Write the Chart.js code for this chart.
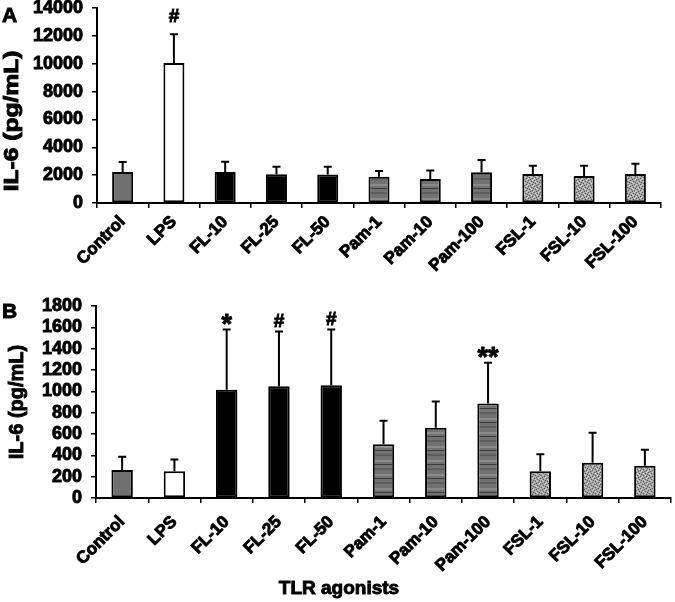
<!DOCTYPE html>
<html>
<head>
<meta charset="utf-8">
<script src="https://cdn.jsdelivr.net/npm/chart.js@4.4.0/dist/chart.umd.min.js"></script>
<style>
  body { margin: 0; background: #fff; }
  #wrap { position: relative; width: 675px; height: 602px; }
  canvas { position: absolute; left: 0; }
</style>
</head>
<body>
<div id="wrap">
  <canvas id="chartA" width="675" height="285" style="top:0"></canvas>
  <canvas id="chartB" width="675" height="340" style="top:262px"></canvas>
</div>
<script>
// values (mean, SD)
const categories = ['Control', 'LPS', 'FL-10', 'FL-25', 'FL-50', 'Pam-1', 'Pam-10', 'Pam-100', 'FSL-1', 'FSL-10', 'FSL-100'];
const il6A = [2220, 10060, 2230, 2060, 2050, 1890, 1720, 2200, 2080, 1940, 2080];
const sdA = [730, 2060, 730, 540, 560, 400, 620, 880, 590, 730, 740];
const marksA = ['', '#', '', '', '', '', '', '', '', '', ''];
const il6B = [262, 250, 1014, 1048, 1057, 505, 659, 886, 250, 331, 303];
const sdB = [125, 112, 565, 512, 522, 219, 246, 381, 159, 281, 150];
const marksB = ['', '', '*', '#', '#', '', '', '**', '', '', ''];
const groups = ['ctrl', 'lps', 'fl', 'fl', 'fl', 'pam', 'pam', 'pam', 'fsl', 'fsl', 'fsl'];

const FONT = '"Liberation Sans", Arial, Helvetica, sans-serif';
const HEAVY = 0.9; // extra stroke so the bold text looks as heavy as the figure's
Chart.defaults.font.family = FONT;
Chart.defaults.color = '#000';

function stripePattern() {
  const c = document.createElement('canvas');
  c.width = 8; c.height = 14;
  const g = c.getContext('2d');
  g.fillStyle = '#727272'; g.fillRect(0, 0, 8, 14);
  g.fillStyle = '#8a8a8a'; g.fillRect(0, 2, 8, 2);
  g.fillStyle = '#3a3a3a'; g.fillRect(0, 6, 8, 1);
  g.fillStyle = '#5e5e5e'; g.fillRect(0, 10, 8, 2);
  return g.createPattern(c, 'repeat');
}

function speckPattern() {
  const c = document.createElement('canvas');
  c.width = 6; c.height = 6;
  const g = c.getContext('2d');
  g.fillStyle = '#a2a2a2'; g.fillRect(0, 0, 6, 6);
  g.fillStyle = '#555';
  [[0, 0], [3, 1], [1, 3], [4, 4], [5, 2], [2, 5]].forEach(([x, y]) => g.fillRect(x, y, 1, 1));
  g.fillStyle = '#d4d4d4';
  [[1, 1], [4, 0], [2, 2], [5, 5], [0, 4], [3, 3]].forEach(([x, y]) => g.fillRect(x, y, 1, 1));
  return g.createPattern(c, 'repeat');
}

const fills = { ctrl: '#707070', lps: '#ffffff', fl: '#000000', pam: stripePattern(), fsl: speckPattern() };

function heavyText(ctx, text, x, y) {
  ctx.lineWidth = HEAVY;
  ctx.strokeStyle = '#000';
  ctx.fillText(text, x, y);
  ctx.strokeText(text, x, y);
}

const errorBars = {
  id: 'errorBars',
  afterDatasetsDraw(chart, args, opts) {
    const { ctx } = chart;
    const y = chart.scales.y;
    const meta = chart.getDatasetMeta(0);
    ctx.save();
    ctx.fillStyle = '#000';
    meta.data.forEach((bar, i) => {
      const top = y.getPixelForValue(opts.values[i] + opts.errors[i]);
      ctx.strokeStyle = '#000';
      ctx.lineWidth = 2;
      ctx.beginPath();
      ctx.moveTo(bar.x, bar.y);
      ctx.lineTo(bar.x, top);
      ctx.moveTo(bar.x - 4, top);
      ctx.lineTo(bar.x + 4, top);
      ctx.stroke();
      const mark = opts.marks[i];
      if (mark) {
        const star = mark.includes('*');
        ctx.font = 'bold ' + (star ? 27 : 19) + 'px ' + FONT;
        ctx.textAlign = 'center';
        ctx.textBaseline = 'alphabetic';
        heavyText(ctx, mark, bar.x, top - (star ? -3 : opts.gap));
      }
    });
    ctx.restore();
  }
};

const panelText = {
  id: 'panelText',
  afterDraw(chart, args, opts) {
    const { ctx } = chart;
    ctx.save();
    ctx.fillStyle = '#000';
    ctx.textBaseline = 'alphabetic';
    ctx.textAlign = 'left';
    ctx.font = 'bold 21px ' + FONT;
    heavyText(ctx, opts.letter, opts.letterX, opts.letterY);
    // y axis title
    ctx.translate(opts.titleX, opts.titleY);
    ctx.rotate(-Math.PI / 2);
    ctx.scale(opts.titleStretch, 1);
    ctx.textAlign = 'center';
    ctx.textBaseline = 'middle';
    ctx.font = 'bold 20px ' + FONT;
    heavyText(ctx, 'IL-6 (pg/mL)', 0, 0);
    ctx.restore();
    if (opts.xTitle) {
      ctx.save();
      ctx.fillStyle = '#000';
      ctx.font = 'bold 19px ' + FONT;
      ctx.textAlign = 'center';
      ctx.textBaseline = 'alphabetic';
      heavyText(ctx, opts.xTitle, opts.xTitleX, opts.xTitleY);
      ctx.restore();
    }
  }
};

function makeChart(id, values, errors, marks, cfg) {
  return new Chart(document.getElementById(id), {
    type: 'bar',
    data: {
      labels: categories,
      datasets: [{
        data: values,
        backgroundColor: groups.map(g => fills[g]),
        borderColor: '#000',
        borderWidth: 2,
        borderSkipped: false,
        barPercentage: 0.41,
        categoryPercentage: 1
      }]
    },
    options: {
      responsive: false,
      animation: false,
      events: [],
      layout: { padding: cfg.padding },
      plugins: {
        legend: { display: false },
        tooltip: { enabled: false },
        errorBars: { values, errors, marks, gap: cfg.markGap },
        panelText: cfg.text
      },
      scales: {
        x: {
          grid: { drawOnChartArea: false, color: '#000', lineWidth: 1.5, tickLength: 5, offset: true },
          border: { color: '#000', width: 2 },
          ticks: {
            font: { size: 17, weight: 'bold' },
            textStrokeColor: '#000', textStrokeWidth: HEAVY,
            minRotation: 45, maxRotation: 45,
            padding: cfg.xPad, autoSkip: false
          },
          afterFit(s) { s.height = cfg.xHeight; s.paddingLeft = 0; s.paddingRight = 0; }
        },
        y: {
          min: 0, max: cfg.max,
          grid: { drawOnChartArea: false, color: '#000', lineWidth: 1.5, tickLength: 5 },
          border: { color: '#000', width: 2 },
          ticks: {
            stepSize: cfg.step,
            autoSkip: false,
            font: { size: 18, weight: 'bold' },
            textStrokeColor: '#000', textStrokeWidth: HEAVY,
            padding: 9,
            callback: v => String(v)
          },
          afterFit(s) { s.width = cfg.yWidth; s.paddingTop = 0; s.paddingBottom = 0; }
        }
      }
    },
    plugins: [errorBars, panelText]
  });
}

makeChart('chartA', il6A, sdA, marksA, {
  max: 14000, step: 2000,
  padding: { top: 8, right: 14, left: 0, bottom: 0 },
  xHeight: 82, yWidth: 97, xPad: 4, markGap: 12,
  text: { letter: 'A', letterX: 2, letterY: 22, titleX: 12, titleY: 121, titleStretch: 1.23 }
});

makeChart('chartB', il6B, sdB, marksB, {
  max: 1800, step: 200,
  padding: { top: 44, right: 4, left: 0, bottom: 0 },
  xHeight: 104, yWidth: 96, xPad: 9, markGap: 5,
  text: { letter: 'B', letterX: 2, letterY: 56, titleX: 17, titleY: 140, titleStretch: 1,
          xTitle: 'TLR agonists', xTitleX: 339, xTitleY: 332 }
});
</script>
</body>
</html>
